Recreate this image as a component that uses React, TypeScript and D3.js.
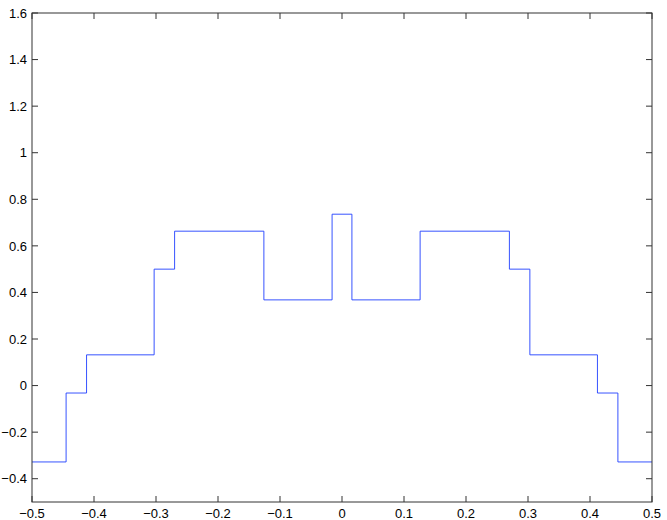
import React from 'react'
import * as d3 from 'd3'

// step edges and the level held between each pair of edges
const edges = [-0.5, -0.445, -0.412, -0.303, -0.27, -0.126, -0.016, 0.016, 0.126, 0.27, 0.303, 0.412, 0.445, 0.5]
const levels = [-0.328, -0.032, 0.132, 0.5, 0.663, 0.368, 0.736, 0.368, 0.663, 0.5, 0.132, -0.032, -0.328]

const xTicks = [-0.5, -0.4, -0.3, -0.2, -0.1, 0, 0.1, 0.2, 0.3, 0.4, 0.5]
const yTicks = [-0.4, -0.2, 0, 0.2, 0.4, 0.6, 0.8, 1, 1.2, 1.4, 1.6]

const fmt = (v: number) => {
	const s = String(Math.round(v * 10) / 10)
	return s.startsWith('-') ? '\u2212' + s.slice(1) : s
}

export default function App() {
	const width = 667
	const height = 520
	const left = 32, right = 652, top = 13, bottom = 502

	const x = d3.scaleLinear().domain([-0.5, 0.5]).range([left, right])
	const y = d3.scaleLinear().domain([-0.5, 1.6]).range([bottom, top])

	const pts: [number, number][] = edges.map((e, i) => [e, levels[Math.min(i, levels.length - 1)]])
	const line = d3.line<[number, number]>()
		.x(d => x(d[0]))
		.y(d => y(d[1]))
		.curve(d3.curveStepAfter)

	const tl = 6
	const axisColor = '#333'

	return (
		<svg width={width} height={height} style={{position: 'absolute', left: 0, top: 0}}
			fontFamily="'Liberation Sans', Arial, sans-serif" fontSize={13}>
			<rect x={0} y={0} width={width} height={height} fill="#fff" />
			<path d={line(pts) || ''} fill="none" stroke="#2040ff" strokeWidth={0.9} />
			<rect x={left} y={top} width={right - left} height={bottom - top} fill="none" stroke={axisColor} strokeWidth={1} />
			{xTicks.map((t, i) => (
				<g key={`x-${i}`}>
					<line x1={x(t)} x2={x(t)} y1={bottom} y2={bottom - tl} stroke={axisColor} />
					<line x1={x(t)} x2={x(t)} y1={top} y2={top + tl} stroke={axisColor} />
					<text x={x(t)} y={518} textAnchor="middle" fill="#000">{fmt(t)}</text>
				</g>
			))}
			{yTicks.map((t, i) => (
				<g key={`y-${i}`}>
					<line x1={left} x2={left + tl} y1={y(t)} y2={y(t)} stroke={axisColor} />
					<line x1={right} x2={right - tl} y1={y(t)} y2={y(t)} stroke={axisColor} />
					<text x={27} y={y(t) + 4.7} textAnchor="end" fill="#000">{fmt(t)}</text>
				</g>
			))}
		</svg>
	)
}
